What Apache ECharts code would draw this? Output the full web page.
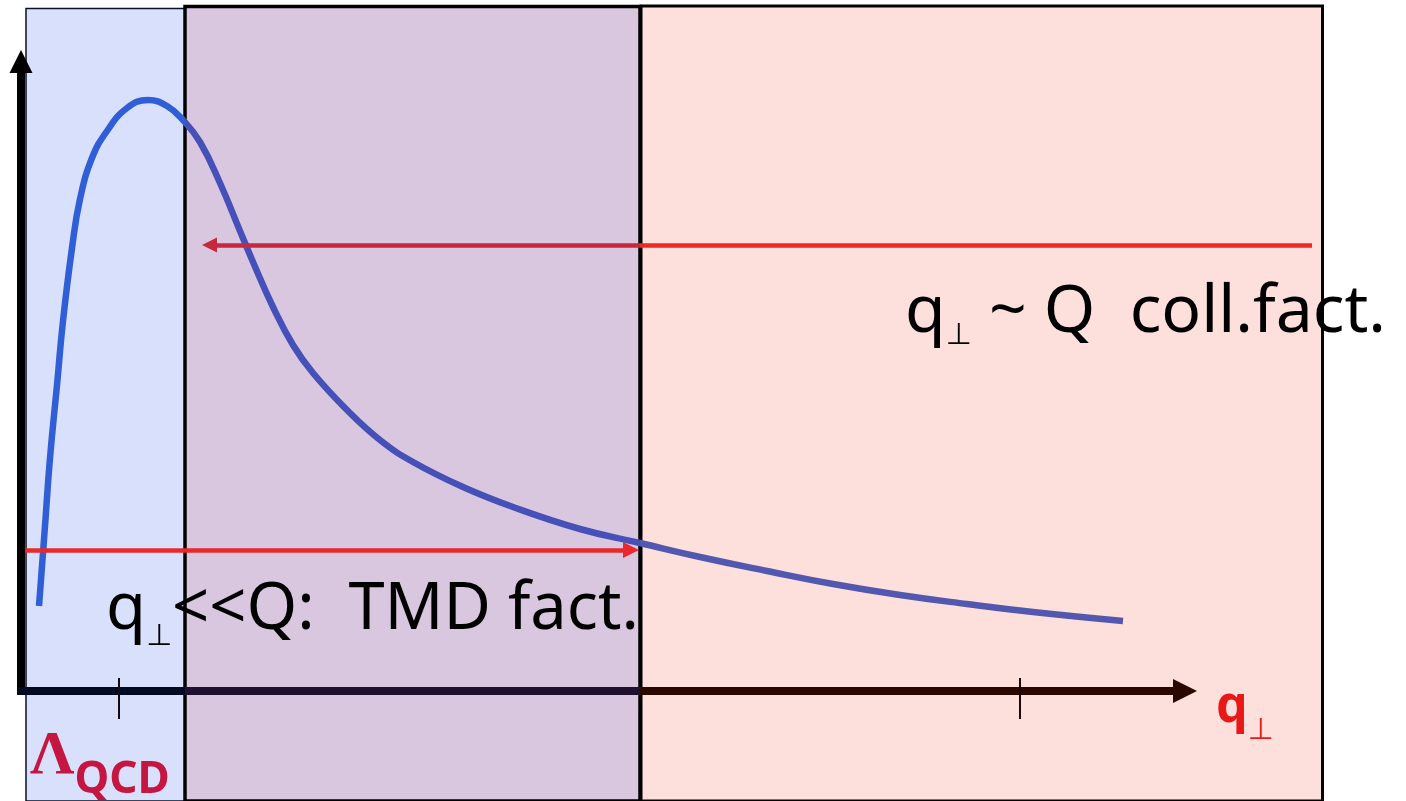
<!DOCTYPE html>
<html>
<head>
<meta charset="utf-8">
<script src="https://cdn.jsdelivr.net/npm/echarts@6/dist/echarts.min.js"></script>
<style>
  html, body { margin: 0; padding: 0; background: #fff; }
  #chart { width: 1406px; height: 801px; }
</style>
</head>
<body>
<div id="chart"></div>
<script>
// Transverse-momentum spectrum, q⊥ in units where Λ_QCD = 1 and Q = 10
const qPerp = [0.19, 0.25, 0.30, 0.37, 0.43, 0.52, 0.60, 0.72, 0.87, 1.07, 1.28, 1.47, 1.63, 1.80,
  2.00, 2.20, 2.33, 2.53, 2.73, 2.93, 3.27, 3.60, 3.93, 4.43, 4.93, 5.60, 6.20, 6.80, 7.47, 8.13,
  8.80, 9.47, 10.13, 11.03];
const crossSection = [0.85, 1.65, 2.33, 3.06, 3.70, 4.43, 4.92, 5.33, 5.60, 5.83, 5.91, 5.85, 5.71, 5.49,
  5.08, 4.60, 4.29, 3.84, 3.46, 3.18, 2.81, 2.51, 2.29, 2.04, 1.84, 1.62, 1.48, 1.34, 1.20, 1.07,
  0.96, 0.87, 0.79, 0.70];

// Scale markers on the q⊥ axis
const tickValues = [1, 10];          // Λ_QCD, Q

// Kinematic regions: [from, to] in q⊥ and top of the band
const regionNames = ['nonperturbative', 'TMD', 'collinear'];
const regionFrom = [0.06, 1.65, 6.21];
const regionTo = [1.65, 6.20, 13.025];
const regionTop = [6.825, 6.845, 6.85];
const regionBottom = -1.4;

// Validity ranges of the two factorization schemes (arrows)
const tmdRange = [0.05, 6.11];       // q⊥ << Q
const collRange = [12.92, 1.895];    // q⊥ ~ Q
const tmdArrowLevel = 1.41;
const collArrowLevel = 4.46;

const regionFill = ['#d9e0fb', '#d9c6df', '#fddfdb'];
const regionBorder = ['#06102c', '#000000', '#000000'];
const regionBorderWidth = [1.5, 3.5, 3];

const chart = echarts.init(document.getElementById('chart'), null, { renderer: 'canvas' });

const areas = regionNames.map((name, i) => [
  { name, xAxis: regionFrom[i], yAxis: regionTop[i],
    itemStyle: { color: regionFill[i], borderColor: regionBorder[i], borderWidth: regionBorderWidth[i], opacity: 1 } },
  { xAxis: regionTo[i], yAxis: regionBottom }
]);

const guideLines = [
  // vertical axis with arrow head
  [{ coord: [0.01, -0.03], symbol: 'none', lineStyle: { color: '#000', width: 8 } },
   { coord: [0.01, 6.295], symbol: 'triangle', symbolSize: [23, 23] }],
  // horizontal axis, drawn per region
  [{ coord: [-0.03, 0], symbol: 'none', lineStyle: { color: '#000a22', width: 8 } },
   { coord: [regionTo[0], 0], symbol: 'none' }],
  [{ coord: [regionFrom[1], 0], symbol: 'none', lineStyle: { color: '#201030', width: 8 } },
   { coord: [regionTo[1], 0], symbol: 'none' }],
  [{ coord: [regionTo[1], 0], symbol: 'none', lineStyle: { color: '#2a0800', width: 8 } },
   { coord: [11.65, 0], symbol: 'triangle', symbolSize: [24, 24] }],
  // collinear-factorization arrow (q⊥ ~ Q)
  [{ coord: [collRange[0], collArrowLevel], symbol: 'none', lineStyle: { color: '#ec2a22', width: 4.5 } },
   { coord: [regionTo[1], collArrowLevel], symbol: 'none' }],
  [{ coord: [regionTo[1], collArrowLevel], symbol: 'none', lineStyle: { color: '#c8283e', width: 4.5 } },
   { coord: [collRange[1], collArrowLevel], symbol: 'triangle', symbolSize: [15, 15] }],
  // TMD-factorization arrow (q⊥ << Q)
  [{ coord: [tmdRange[0], tmdArrowLevel], symbol: 'none', lineStyle: { color: '#e8282a', width: 4.5 } },
   { coord: [tmdRange[1], tmdArrowLevel], symbol: 'triangle', symbolSize: [16, 16] }]
].concat(tickValues.map((v, i) => [
  { coord: [v - (i === 0 ? 0.01 : 0), 0.13], symbol: 'none', lineStyle: { color: '#1a0a10', width: 2 } },
  { coord: [v - (i === 0 ? 0.01 : 0), -0.28], symbol: 'none' }
]));

const option = {
  animation: false,
  backgroundColor: '#ffffff',
  grid: { left: 0, right: 0, top: 0, bottom: 0 },
  xAxis: { type: 'value', min: -0.2, max: 13.86, show: false },
  yAxis: { type: 'value', min: -1.10, max: 6.91, show: false },
  visualMap: {
    show: false, type: 'piecewise', dimension: 0, seriesIndex: 1,
    pieces: [
      { lt: regionTo[0], color: '#2f5ed6' },
      { gte: regionTo[0], lt: regionTo[1], color: '#4550b8' },
      { gte: regionTo[1], color: '#5258b0' }
    ]
  },
  series: [
    {
      type: 'line', name: 'regions', data: [], z: 1, silent: true,
      markArea: { silent: true, label: { show: false }, data: areas }
    },
    {
      type: 'line', name: 'spectrum', z: 3, silent: true,
      data: qPerp.map((q, i) => [q, crossSection[i]]),
      smooth: 0.45, showSymbol: false,
      lineStyle: { width: 6.5, cap: 'butt' }
    },
    {
      type: 'line', name: 'guides', data: [], z: 2, silent: true,
      markLine: {
        silent: true, animation: false, precision: 4,
        label: { show: false }, emphasis: { disabled: true },
        symbol: ['none', 'none'],
        lineStyle: { type: 'solid', color: '#000', width: 2 },
        data: guideLines
      }
    }
  ]
};
chart.setOption(option);

// Text annotations anchored in data coordinates
const sans = "'Noto Sans', 'DejaVu Sans', sans-serif";
const symFont = "'DejaVu Sans', sans-serif";
const px = (x, y) => chart.convertToPixel({ gridIndex: 0 }, [x, y]);
function textAt(x, y, text, rich) {
  const p = px(x, y);
  return {
    type: 'text', x: p[0], y: p[1], z: 100, silent: true,
    style: { text, rich, align: 'left', verticalAlign: 'top' }
  };
}
chart.setOption({
  graphic: [
    textAt(8.85, 4.11, '{m|q}{s|⊥}{m| ~ Q  coll.fact.}', {
      m: { fontFamily: sans, fontSize: 66, lineHeight: 66, verticalAlign: 'top', fill: '#000' },
      s: { fontFamily: symFont, fontSize: 30, lineHeight: 71, verticalAlign: 'bottom', fill: '#000' }
    }),
    textAt(0.86, 1.13, '{m|q}{s|⊥}{m|<<Q:  TMD fact.}', {
      m: { fontFamily: sans, fontSize: 65, lineHeight: 65, verticalAlign: 'top', fill: '#000' },
      s: { fontFamily: symFont, fontSize: 30, lineHeight: 74, verticalAlign: 'bottom', fill: '#000' }
    }),
    textAt(0.10, -0.35, '{L|Λ}{Q|QCD}', {
      L: { fontFamily: "'Liberation Serif', serif", fontSize: 62, fontWeight: 'bold', lineHeight: 62, verticalAlign: 'top', fill: '#c41640' },
      Q: { fontFamily: sans, fontSize: 44, fontWeight: 'bold', lineHeight: 76, verticalAlign: 'bottom', fill: '#c41640' }
    }),
    textAt(11.96, 0.08, '{m|q}{s|⊥}', {
      m: { fontFamily: sans, fontSize: 50, fontWeight: 'bold', lineHeight: 50, verticalAlign: 'top', fill: '#e81818' },
      s: { fontFamily: symFont, fontSize: 30, lineHeight: 63, verticalAlign: 'bottom', fill: '#e81818' }
    })
  ]
});
</script>
</body>
</html>
